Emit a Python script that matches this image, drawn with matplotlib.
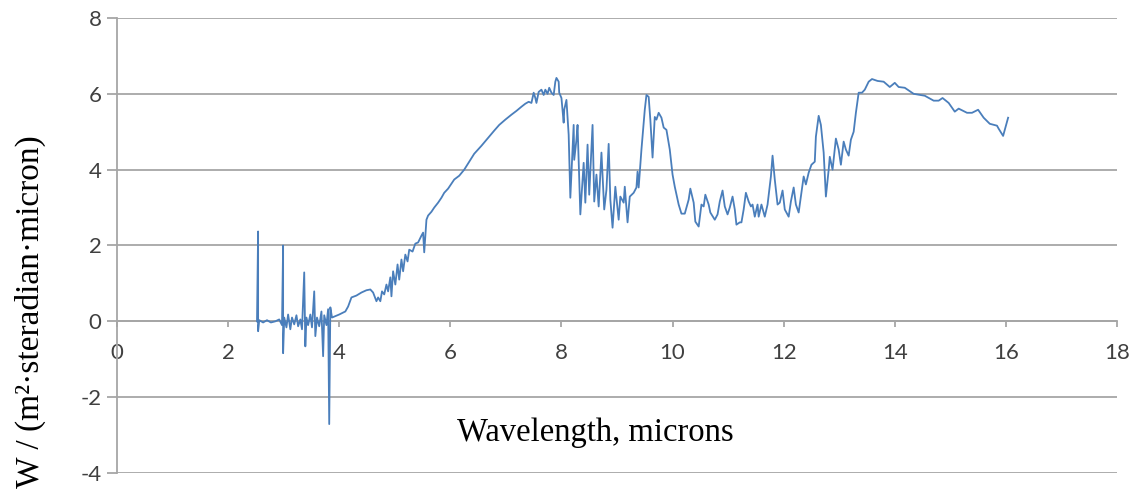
import matplotlib.pyplot as plt

plt.rcParams['font.family'] = ['Lato', 'DejaVu Sans']
plt.rcParams['axes.unicode_minus'] = False

# spectrum
wavelength = [
    2.52, 2.54, 2.54, 2.56, 2.63, 2.70, 2.77, 2.85, 2.92, 2.97, 2.99, 2.99, 3.01, 3.05, 3.08,
    3.12, 3.15, 3.19, 3.23, 3.26, 3.30, 3.33, 3.37, 3.39, 3.41, 3.44, 3.48, 3.51, 3.55, 3.57,
    3.60, 3.64, 3.68, 3.71, 3.73, 3.77, 3.80, 3.82, 3.84, 3.87,
    4.00, 4.11, 4.16, 4.22, 4.31, 4.40, 4.49, 4.56, 4.61, 4.67, 4.70, 4.74, 4.77, 4.81, 4.85,
    4.88, 4.92, 4.94, 4.97, 5.01, 5.05, 5.08, 5.12, 5.15, 5.19, 5.23, 5.26, 5.32, 5.37, 5.42,
    5.48, 5.51, 5.53, 5.57, 5.60, 5.66, 5.71, 5.78, 5.84, 5.89, 5.96, 6.02, 6.07, 6.16, 6.25,
    6.34, 6.43, 6.56, 6.68, 6.79, 6.88, 6.99, 7.10, 7.19, 7.28, 7.35, 7.41, 7.46, 7.50, 7.53,
    7.55, 7.59, 7.64, 7.68, 7.71, 7.75, 7.78, 7.82, 7.86, 7.89, 7.91, 7.95, 7.96, 8.00, 8.04,
    8.05, 8.09, 8.13, 8.16, 8.22, 8.23, 8.27, 8.29, 8.34, 8.40, 8.43, 8.47, 8.50, 8.56, 8.59,
    8.63, 8.67, 8.72, 8.77, 8.81, 8.85, 8.88, 8.92, 8.97, 9.03, 9.06, 9.12, 9.14, 9.19, 9.23,
    9.30, 9.35, 9.37, 9.39, 9.44, 9.50, 9.53, 9.57, 9.60, 9.64, 9.68, 9.71, 9.75, 9.80, 9.84,
    9.89, 9.95, 10.00, 10.04, 10.11, 10.16, 10.22, 10.29, 10.32, 10.38, 10.41, 10.47, 10.52,
    10.56, 10.59, 10.65, 10.68, 10.76, 10.81, 10.85, 10.90, 10.94, 10.99, 11.03, 11.08, 11.12,
    11.15, 11.21, 11.24, 11.28, 11.32, 11.37, 11.41, 11.44, 11.48, 11.53, 11.55, 11.60, 11.66,
    11.71, 11.77, 11.80, 11.84, 11.89, 11.93, 11.98, 12.02, 12.09, 12.13, 12.18, 12.22, 12.27,
    12.32, 12.36, 12.40, 12.45, 12.50, 12.56, 12.58, 12.63, 12.67, 12.72, 12.76, 12.81, 12.83,
    12.88, 12.94, 12.99, 13.03, 13.08, 13.12, 13.17, 13.21, 13.26, 13.30, 13.35, 13.41, 13.46,
    13.53, 13.59, 13.69, 13.80, 13.91, 14.00, 14.07, 14.18, 14.34, 14.54, 14.70, 14.79, 14.86,
    14.97, 15.08, 15.15, 15.30, 15.39, 15.50, 15.60, 15.71, 15.84, 15.87, 15.95, 16.04,
]
radiance = [
    0.00, 2.37, -0.26, 0.03, -0.03, 0.03, -0.03, 0.00, 0.05, -0.10, 2.00, -0.84, 0.10, -0.16, 0.18,
    -0.21, 0.10, -0.08, 0.16, -0.13, 0.05, -0.21, 1.29, -0.66, 0.10, -0.10, 0.18, -0.16, 0.79, -0.39,
    0.10, -0.13, 0.26, -0.92, 0.16, -0.10, 0.32, -2.71, 0.37, 0.10,
    0.18, 0.26, 0.39, 0.63, 0.68, 0.76, 0.82, 0.84, 0.76, 0.53, 0.63, 0.53, 0.79, 0.71, 0.97,
    0.79, 1.16, 0.66, 1.32, 0.97, 1.50, 1.10, 1.63, 1.32, 1.76, 1.58, 1.89, 1.84, 2.05, 2.08,
    2.26, 2.34, 1.82, 2.68, 2.79, 2.89, 3.00, 3.13, 3.26, 3.39, 3.50, 3.63, 3.74, 3.84, 4.00,
    4.21, 4.42, 4.63, 4.84, 5.03, 5.18, 5.32, 5.45, 5.55, 5.66, 5.74, 5.79, 5.76, 6.03, 5.89,
    5.76, 6.05, 6.11, 5.97, 6.11, 6.00, 6.16, 6.03, 5.97, 6.32, 6.42, 6.32, 6.03, 5.89, 5.24,
    5.58, 5.84, 4.92, 3.26, 5.18, 4.26, 4.79, 5.18, 2.82, 4.18, 3.13, 4.66, 3.34, 5.18, 3.16,
    3.87, 3.03, 4.45, 2.95, 3.47, 4.68, 3.21, 2.47, 3.55, 2.68, 3.29, 3.13, 3.55, 2.61, 3.29,
    3.39, 3.53, 3.95, 3.53, 4.53, 5.58, 5.97, 5.92, 5.32, 4.32, 5.39, 5.32, 5.50, 5.37, 5.11,
    5.05, 4.53, 3.87, 3.55, 3.08, 2.84, 2.84, 3.21, 3.50, 3.13, 2.63, 2.50, 3.08,
    3.03, 3.34, 3.08, 2.87, 2.68, 2.82, 3.16, 3.45, 3.03, 2.82, 3.00, 3.29, 2.95,
    2.55, 2.61, 2.61, 2.95, 3.39, 3.16, 3.03, 3.08, 2.76, 3.08, 2.76, 3.08, 2.76,
    3.08, 3.82, 4.37, 3.74, 3.08, 3.13, 3.45, 2.95, 2.76, 3.16, 3.53, 3.08, 2.87,
    3.39, 3.82, 3.61, 3.92, 4.13, 4.21, 4.87, 5.42, 5.18, 4.45, 3.29, 4.00, 4.34,
    4.00, 4.82, 4.53, 4.13, 4.74, 4.53, 4.37, 4.79, 5.00, 5.50, 6.03, 6.03, 6.11,
    6.32, 6.39, 6.34, 6.32, 6.18, 6.29, 6.18, 6.16, 6.00, 5.95, 5.82, 5.82, 5.89,
    5.76, 5.53, 5.61, 5.50, 5.50, 5.58, 5.37, 5.21, 5.16, 5.08, 4.89, 5.37,
]
xticks = list(range(0, 19, 2))
yticks = list(range(-4, 9, 2))

fig = plt.figure(figsize=(11.37, 4.93), dpi=100)
ax = fig.add_axes([117 / 1137, 20 / 493, 1000 / 1137, 455 / 493])

ax.plot(wavelength, radiance, color='#4a7ebb', lw=1.3, zorder=3)

ax.set_xlim(0, 18)
ax.set_ylim(-4, 8)
ax.set_xticks(xticks)
ax.set_yticks(yticks)
ax.grid(axis='y', color='#a6a6a6', lw=1.3)
ax.set_axisbelow(True)

for s in ['top', 'right']:
    ax.spines[s].set_visible(False)
ax.spines['bottom'].set_position(('data', 0))
ax.spines['bottom'].set_color('#a6a6a6')
ax.spines['bottom'].set_linewidth(1.3)
ax.spines['left'].set_color('#a6a6a6')
ax.spines['left'].set_linewidth(1.3)

ax.tick_params(axis='x', direction='out', length=4.5, width=1.3, color='#a6a6a6',
               labelsize=16, labelcolor='#404040', pad=11)
ax.tick_params(axis='y', direction='out', length=7, width=1.3, color='#a6a6a6',
               labelsize=16, labelcolor='#404040', pad=4)

ax.set_xlabel('Wavelength, microns', family='Liberation Serif', fontsize=23.5)
ax.xaxis.set_label_coords(0.478, 0.088)
ax.xaxis.label.set_va('center')
ax.set_ylabel('W / (m²·steradian·micron)', family='Liberation Serif', fontsize=24)
ax.yaxis.set_label_coords(-0.087, 0.354)
ax.yaxis.label.set_va('center')

fig.savefig('out.png', dpi=100)
